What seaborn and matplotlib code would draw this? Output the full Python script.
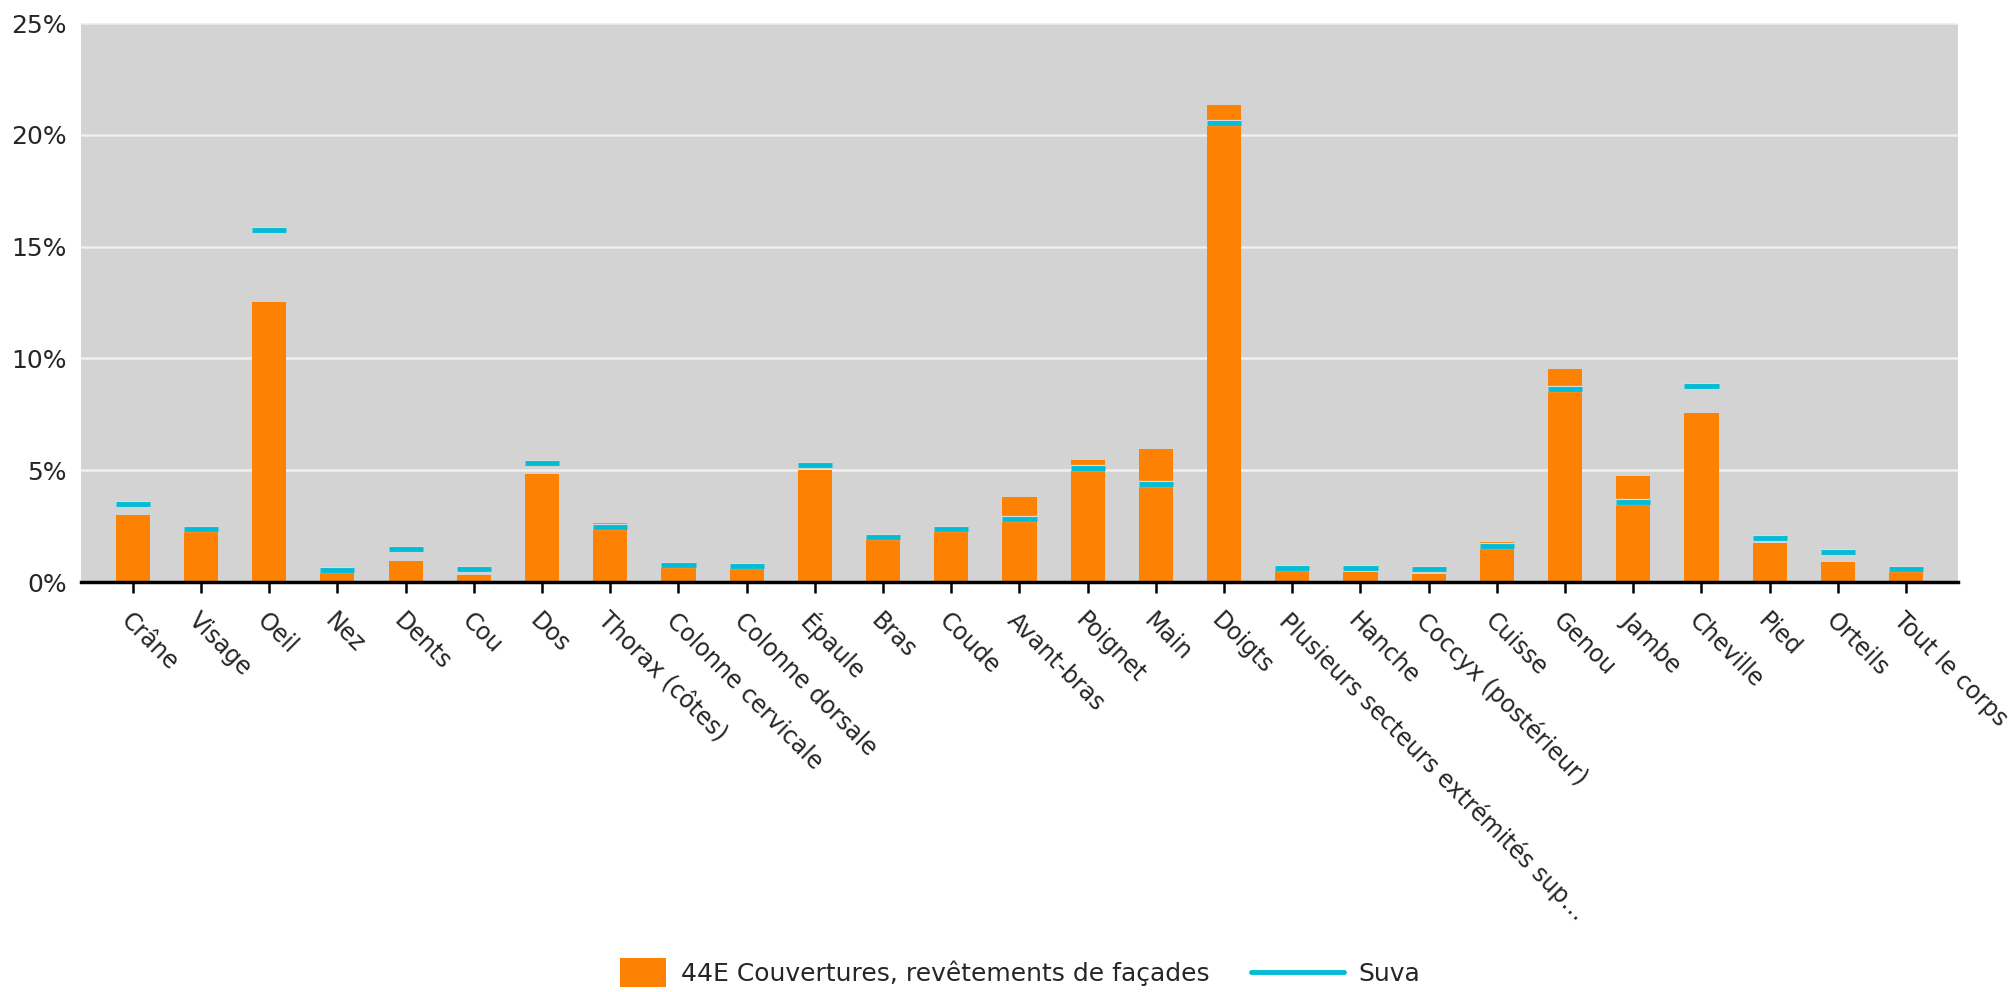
# Bar chart with Suva reference markers, built with seaborn
import numpy as np
import pandas as pd
import matplotlib
matplotlib.use("Agg")
import matplotlib.pyplot as plt
import matplotlib.patheffects as pe
from matplotlib.patches import Patch, Rectangle
from matplotlib.lines import Line2D
from matplotlib.legend_handler import HandlerPatch
import seaborn as sns

# Data
categories = [
    "Crâne", "Visage", "Oeil", "Nez", "Dents", "Cou", "Dos", "Thorax (côtes)",
    "Colonne cervicale", "Colonne dorsale", "Épaule", "Bras", "Coude",
    "Avant-bras", "Poignet", "Main", "Doigts",
    "Plusieurs secteurs extrémités sup…", "Hanche", "Coccyx (postérieur)",
    "Cuisse", "Genou", "Jambe", "Cheville", "Pied", "Orteils", "Tout le corps",
]
branch_pct = [3.0, 2.23, 12.54, 0.48, 0.96, 0.31, 4.84, 2.64, 0.69, 0.62,
              5.01, 1.94, 2.44, 3.81, 5.47, 5.93, 21.35, 0.53, 0.45, 0.38,
              1.77, 9.52, 4.75, 7.56, 1.73, 0.89, 0.69]
suva_pct = [3.48, 2.35, 15.75, 0.55, 1.46, 0.6, 5.33, 2.47, 0.77, 0.72,
            5.25, 2.02, 2.35, 2.8, 5.09, 4.37, 20.53, 0.63, 0.62, 0.58,
            1.63, 8.64, 3.58, 8.76, 1.97, 1.32, 0.58]
y_ticks = [0, 5, 10, 15, 20, 25]
y_labels = ["0%", "5%", "10%", "15%", "20%", "25%"]

branch_label = "44E Couvertures, revêtements de façades"
suva_label = "Suva"

ORANGE = "#fd8204"
CYAN = "#00bcd4"

df = pd.DataFrame({"cat": categories, "branch": branch_pct, "suva": suva_pct})

sns.set_style("white")
plt.rcParams["font.family"] = ["DejaVu Sans"]

fig = plt.figure(figsize=(20.1, 9.92), dpi=100)
ax = fig.add_axes([0.0403, 0.4133, 0.9338, 0.5635])
ax.set_facecolor("#d3d3d3")

# Bars
sns.barplot(data=df, x="cat", y="branch", color=ORANGE, width=0.5,
            saturation=1, edgecolor="none", linewidth=0, ax=ax, zorder=2)

# Suva markers: short horizontal line on each category
xpos = np.arange(len(categories))
ax.hlines(df["suva"], xpos - 0.25, xpos + 0.25, colors=CYAN, linewidth=3.5,
          zorder=3,
          path_effects=[pe.withStroke(linewidth=4.5, foreground="#dadada")])

# Axes styling
ax.set_ylim(0, 25)
ax.set_xlim(-0.76, len(categories) - 1 + 0.76)
ax.set_yticks(y_ticks)
ax.set_yticklabels(y_labels)
ax.yaxis.grid(True, color="#f0f0f0", linewidth=1.8, zorder=0)
ax.set_axisbelow(True)
ax.set_xlabel("")
ax.set_ylabel("")

for side in ["top", "left", "right"]:
    ax.spines[side].set_visible(False)
ax.spines["bottom"].set_color("black")
ax.spines["bottom"].set_linewidth(2.5)
ax.spines["bottom"].set_zorder(4)

ax.tick_params(axis="y", length=0, pad=10, labelsize=18)
ax.tick_params(axis="x", length=8, width=1.8, color="black", pad=11,
               labelsize=17, direction="out", bottom=True)
plt.setp(ax.get_xticklabels(), rotation=-45, ha="left", va="top",
         rotation_mode="anchor")


# Legend: orange block at the right end of its handle box, long line for Suva
def block_patch(legend, orig_handle, xdescent, ydescent, width, height,
                fontsize):
    w = 1.85 * fontsize
    h = 1.16 * fontsize
    return Rectangle((width - w - xdescent,
                      -ydescent + (height - h) / 2), w, h)


handles = [
    Patch(facecolor=ORANGE, edgecolor="none", label=branch_label),
    Line2D([0], [0], color=CYAN, lw=3.5, label=suva_label),
]
ax.legend(handles=handles, loc="center", bbox_to_anchor=(0.488, -0.70),
          ncol=2, frameon=False, fontsize=18, handlelength=3.7,
          columnspacing=1.65, handletextpad=0.6,
          handler_map={Patch: HandlerPatch(patch_func=block_patch)})

fig.savefig("out.png", dpi=100)
